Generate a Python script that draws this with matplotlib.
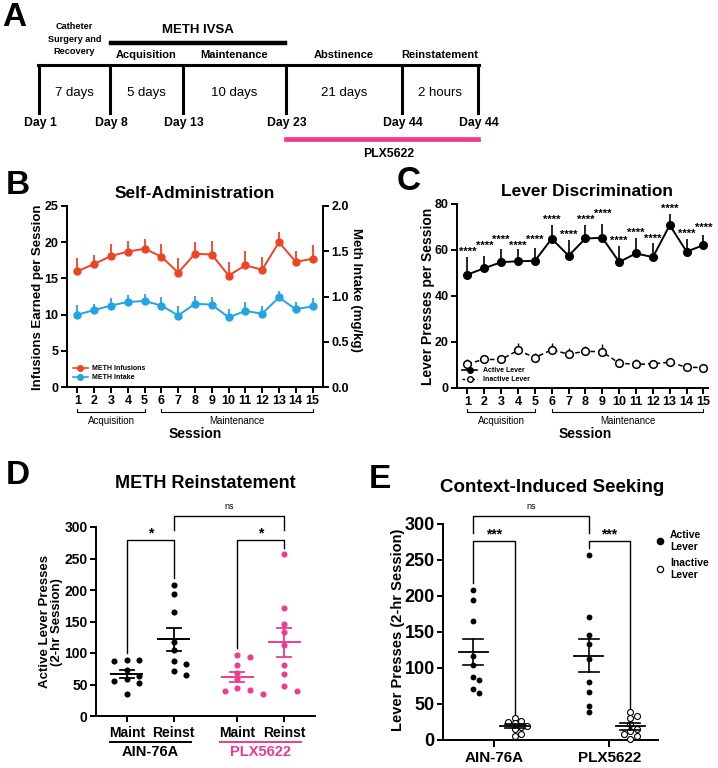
import numpy as np
import matplotlib
matplotlib.use('Agg')
import matplotlib.pyplot as plt
import matplotlib.transforms as mtransforms
from matplotlib import font_manager
from matplotlib.lines import Line2D

W, H = 718, 768

# ---------------- data ----------------
# Panel A: timeline
day_labels = ['Day 1', 'Day 8', 'Day 13', 'Day 23', 'Day 44', 'Day 44']
period_lengths = ['7 days', '5 days', '10 days', '21 days', '2 hours']
phase_labels = ['Catheter\nSurgery and\nRecovery', 'Acquisition', 'Maintenance',
                'Abstinence', 'Reinstatement']

# Panel B: self-administration
sessions = list(range(1, 16))
infusions_mean = [16.0, 17.0, 18.1, 18.7, 19.1, 18.0, 15.8, 18.4, 18.3, 15.4,
                  16.8, 16.2, 20.0, 17.3, 17.7]
infusions_sem = [1.8, 1.3, 1.65, 1.45, 1.4, 1.75, 2.0, 1.6, 1.8, 1.8,
                 1.95, 1.7, 1.45, 1.55, 1.9]
intake_mean = [0.80, 0.85, 0.90, 0.94, 0.95, 0.90, 0.79, 0.92, 0.91, 0.77,
               0.84, 0.81, 0.99, 0.86, 0.89]
intake_sem = [0.11, 0.07, 0.085, 0.075, 0.075, 0.09, 0.10, 0.085, 0.09, 0.09,
              0.10, 0.085, 0.075, 0.08, 0.095]

# Panel C: lever discrimination
active_mean = [49.3, 52.1, 54.7, 55.1, 55.3, 64.9, 57.5, 65.0, 65.3, 54.8,
               58.5, 56.9, 70.8, 59.3, 62.1]
active_sem = [7.6, 5.2, 5.7, 5.3, 5.4, 5.9, 6.9, 5.7, 6.0, 6.9,
              6.7, 6.1, 4.8, 5.4, 4.5]
inactive_mean = [10.6, 12.4, 12.4, 16.4, 13.2, 16.6, 14.7, 16.0, 15.7, 10.8,
                 10.3, 10.5, 11.2, 9.0, 8.9]
inactive_sem = [1.8, 2.1, 1.9, 3.2, 2.1, 3.0, 2.8, 2.2, 3.4, 2.4,
                2.2, 1.6, 1.2, 1.3, 1.1]
session_sig = ['****'] * 15

# Panel D: METH reinstatement (active lever presses)
ain_maint = [89, 89, 88, 73, 64, 59, 55, 53, 35]
ain_reinst = [208, 194, 165, 117, 104, 88, 83, 71, 65]
plx_maint = [97, 93, 81, 69, 58, 45, 41, 40, 35]
plx_reinst = [257, 171, 146, 133, 113, 81, 67, 47, 39]
d_tick_labels = ['Maint', 'Reinst', 'Maint', 'Reinst']
groups = ['AIN-76A', 'PLX5622']

# Panel E: context-induced seeking
ain_active = [208, 194, 165, 117, 104, 88, 83, 71, 65]
ain_inactive = [31, 27, 25, 23, 20, 18, 15, 9, 5]
plx_active = [257, 171, 146, 133, 113, 81, 67, 47, 39]
plx_inactive = [39, 33, 31, 22, 15, 12, 9, 6, 2]

# ---------------- style ----------------
def has_font(name):
    try:
        font_manager.findfont(font_manager.FontProperties(family=name),
                              fallback_to_default=False)
        return True
    except Exception:
        return False

MAIN = 'Liberation Sans' if has_font('Liberation Sans') else 'DejaVu Sans'
plt.rcParams['font.family'] = [MAIN, 'DejaVu Sans']
plt.rcParams['font.weight'] = 'bold'
plt.rcParams['axes.linewidth'] = 1.4
plt.rcParams['xtick.major.width'] = 1.4
plt.rcParams['ytick.major.width'] = 1.4

RED = '#EE4423'
BLUE = '#22A3E6'
PINK = '#EE3A8F'

fig = plt.figure(figsize=(W / 100, H / 100), dpi=100)


def rect(l, t, r, b):
    return [l / W, 1 - b / H, (r - l) / W, (b - t) / H]


def ftext(x, y, s, **kw):
    kw.setdefault('ha', 'center')
    kw.setdefault('va', 'center')
    return fig.text(x / W, 1 - y / H, s, **kw)


def style_axes(ax, labelsize=9):
    ax.spines['top'].set_visible(False)
    ax.spines['right'].set_visible(False)
    ax.tick_params(direction='out', length=4, labelsize=labelsize, pad=2)


def swarm_offsets(values, ppu_x, ppu_y, step_px, min_px):
    vals = np.asarray(values, dtype=float)
    order = np.argsort(-vals, kind='stable')
    placed = []
    offs = np.zeros(len(vals))
    cands = [0.0]
    for m in range(1, 8):
        cands += [m * step_px, -m * step_px]
    for i in order:
        y = vals[i] * ppu_y
        chosen = cands[-1]
        for c in cands:
            if all((c - px) ** 2 + (y - py) ** 2 >= min_px ** 2 for px, py in placed):
                chosen = c
                break
        placed.append((chosen, y))
        offs[i] = chosen / ppu_x
    return offs


def mean_sem(v):
    v = np.asarray(v, dtype=float)
    return v.mean(), v.std(ddof=1) / np.sqrt(len(v))

# ---------------- Panel A ----------------
axa = fig.add_axes([0, 1 - 165 / H, 1, 165 / H])
axa.set_xlim(0, W)
axa.set_ylim(165, 0)
axa.axis('off')
timeline_px = [39, 110, 183, 286, 402, 478]
tl_y = 65
axa.plot([timeline_px[0] - 1, timeline_px[-1] + 1], [tl_y, tl_y], color='k', lw=2.2)
for x, lab in zip(timeline_px, day_labels):
    axa.plot([x, x], [tl_y, 113], color='k', lw=2.2)
    axa.text(x + 1, 123, lab, ha='center', va='center', fontsize=8.8,
             fontweight='bold')
for i, (a, b) in enumerate(zip(timeline_px[:-1], timeline_px[1:])):
    xc = (a + b) / 2
    axa.text(xc, 93, period_lengths[i], ha='center', va='center', fontsize=9.5,
             fontweight='normal')
    if i == 0:
        axa.text(xc, 39, phase_labels[i], ha='center', va='center', fontsize=6.6,
                 fontweight='bold', linespacing=1.45)
    else:
        axa.text(xc, 55, phase_labels[i], ha='center', va='center', fontsize=8,
                 fontweight='bold')
axa.plot([timeline_px[1] + 1, timeline_px[3] - 1], [43, 43], color='k', lw=3.2)
axa.text((timeline_px[1] + timeline_px[3]) / 2, 30, 'METH IVSA', ha='center',
         va='center', fontsize=9.5, fontweight='bold')
axa.plot([timeline_px[3], timeline_px[5]], [139, 139], color=PINK, lw=3.4)
axa.text(389, 154, 'PLX5622', ha='center', va='center', fontsize=8.8,
         fontweight='bold')
ftext(14, 18, 'A', fontsize=24, fontweight='bold')

# ---------------- Panel B ----------------
axb = fig.add_axes(rect(67, 206, 323, 387))
style_axes(axb)
zeros = np.zeros(len(sessions))
axb.errorbar(sessions, infusions_mean, yerr=[zeros, infusions_sem], color=RED,
             marker='o', ms=5, lw=1.4, elinewidth=1.3, capsize=0, zorder=3)
axb.set_xlim(0.375, 15.625)
axb.set_ylim(0, 25)
axb.set_yticks([0, 5, 10, 15, 20, 25])
axb.set_xticks(sessions)
ftext(38, 297, 'Infusions Earned per Session', fontsize=9.5, fontweight='bold',
      rotation=90)
axb2 = axb.twinx()
axb2.spines['top'].set_visible(False)
axb2.spines['left'].set_visible(False)
axb2.spines['bottom'].set_visible(False)
axb2.tick_params(direction='out', length=4, labelsize=9, pad=2)
axb2.errorbar(sessions, intake_mean, yerr=[zeros, intake_sem], color=BLUE,
              marker='o', ms=5, lw=1.4, elinewidth=1.3, capsize=0, zorder=3)
axb2.set_ylim(0, 2.0)
axb2.set_yticks([0, 0.5, 1.0, 1.5, 2.0])
axb2.set_yticklabels(['0.0', '0.5', '1.0', '1.5', '2.0'])
ftext(356, 290, 'Meth Intake (mg/kg)', fontsize=9.5, fontweight='bold', rotation=270)
hb = [Line2D([], [], color=RED, marker='o', ms=4, lw=1.2),
      Line2D([], [], color=BLUE, marker='o', ms=4, lw=1.2)]
axb.legend(hb, ['METH Infusions', 'METH Intake'], loc='lower left',
           bbox_to_anchor=(0.0, 0.0), frameon=False, prop={'size': 5, 'weight': 'bold'},
           handlelength=2.2, handletextpad=0.6, labelspacing=0.3, borderaxespad=0.4)
ftext(195, 193, 'Self-Administration', fontsize=12.5, fontweight='bold')
ftext(18, 185, 'B', fontsize=24, fontweight='bold')


def session_brackets(ax, text_x):
    tr = mtransforms.blended_transform_factory(ax.transData, fig.transFigure)
    for a, b, lab in [(1, 5, 'Acquisition'), (6, 15, 'Maintenance')]:
        ax.plot([a, a, b, b], [1 - 409 / H, 1 - 412 / H, 1 - 412 / H, 1 - 409 / H],
                color='k', lw=0.8, transform=tr, clip_on=False)
        ax.text((a + b) / 2, 1 - 421.5 / H, lab, transform=tr, ha='center', va='center',
                fontsize=7, fontweight='normal')
    ftext(text_x, 434, 'Session', fontsize=10, fontweight='bold')


session_brackets(axb, 195)

# ---------------- Panel C ----------------
axc = fig.add_axes(rect(457, 204, 708, 388))
style_axes(axc)
axc.errorbar(sessions, active_mean, yerr=[zeros, active_sem], color='k',
             marker='o', ms=5.5, lw=1.4, elinewidth=1.2, capsize=0, zorder=3)
axc.errorbar(sessions, inactive_mean, yerr=[zeros, inactive_sem], color='k',
             marker='o', ms=5.5, mfc='white', mec='k', mew=1.1, lw=1.1,
             ls=(0, (3, 2)), elinewidth=1.0, capsize=0, zorder=3)
# significance labels, staggered vertically where neighbours would collide
prev_y = None
sep = 2.6
for s, m, e, lab in zip(sessions, active_mean, active_sem, session_sig):
    top = m + e
    y = top + 2.4
    if prev_y is not None and abs(y - prev_y) < sep:
        if y < prev_y and prev_y - sep >= top + 1.2:
            y = prev_y - sep
        else:
            y = prev_y + sep
    axc.text(s, y, lab, ha='center', va='center', fontsize=8, fontweight='bold')
    prev_y = y
axc.set_xlim(0.38, 15.27)
axc.set_ylim(0, 80)
axc.set_yticks([0, 20, 40, 60, 80])
axc.set_xticks(sessions)
ftext(428, 296, 'Lever Presses per Session', fontsize=10, fontweight='bold',
      rotation=90)
hc = [Line2D([], [], color='k', marker='o', ms=4, lw=1.2),
      Line2D([], [], color='k', marker='o', ms=4, mfc='white', lw=1.0, ls=(0, (2, 1.5)))]
axc.legend(hc, ['Active Lever', 'Inactive Lever'], loc='lower left',
           bbox_to_anchor=(0.0, 0.0), frameon=False, prop={'size': 5, 'weight': 'bold'},
           handlelength=2.2, handletextpad=0.8, labelspacing=0.3, borderaxespad=0.3)
ftext(587, 192, 'Lever Discrimination', fontsize=12.5, fontweight='bold')
ftext(409, 181, 'C', fontsize=24, fontweight='bold')
session_brackets(axc, 585)

# ---------------- Panel D ----------------
d_left, d_top, d_right, d_bot = 96, 527, 315, 716
axd = fig.add_axes(rect(d_left, d_top, d_right, d_bot))
style_axes(axd, labelsize=10)
d_pos = [0, 1, 2.36, 3.36]
d_xlim = (-0.66, 4.02)
axd.set_xlim(*d_xlim)
axd.set_ylim(0, 300)
ppu_x_d = (d_right - d_left) / (d_xlim[1] - d_xlim[0])
ppu_y_d = (d_bot - d_top) / 300
d_sets = [ain_maint, ain_reinst, plx_maint, plx_reinst]
d_cols = ['k', 'k', PINK, PINK]
for pos, vals, col in zip(d_pos, d_sets, d_cols):
    offs = swarm_offsets(vals, ppu_x_d, ppu_y_d, 12.6, 6.5)
    axd.plot(pos + offs, vals, 'o', color=col, ms=4.4, mew=0, zorder=3, clip_on=False)
    m, se = mean_sem(vals)
    axd.plot([pos - 0.33, pos + 0.33], [m, m], color=col, lw=1.4, zorder=4)
    axd.plot([pos, pos], [m - se, m + se], color=col, lw=1.3, zorder=4)
    for yy in (m - se, m + se):
        axd.plot([pos - 0.15, pos + 0.15], [yy, yy], color=col, lw=1.3, zorder=4)
axd.set_xticks(d_pos)
axd.set_xticklabels(d_tick_labels, fontsize=10, fontweight='bold')
axd.tick_params(axis='x', pad=3)
axd.set_yticks([0, 50, 100, 150, 200, 250, 300])
ftext(51, 622, 'Active Lever Presses\n(2-hr Session)', fontsize=9.5,
      fontweight='bold', linespacing=1.1, rotation=90)
trd = mtransforms.blended_transform_factory(axd.transData, fig.transFigure)
for (a, b), g, col in zip([(d_pos[0], d_pos[1]), (d_pos[2], d_pos[3])], groups, ['k', PINK]):
    c = (a + b) / 2
    axd.plot([c - 0.86, c + 0.86], [1 - 741.7 / H] * 2, color=col, lw=1.4,
             transform=trd, clip_on=False)
    axd.text(c, 1 - 752 / H, g, transform=trd, ha='center', va='center',
             fontsize=10.5, fontweight='bold', color=col)


def bracket(ax, x1, x2, y, yb1, yb2, label, dy, fs, weight='bold'):
    ax.plot([x1, x1, x2, x2], [yb1, y, y, yb2], color='k', lw=1.0, clip_on=False,
            zorder=2)
    ax.text((x1 + x2) / 2, y + dy, label, ha='center', va='center', fontsize=fs,
            fontweight=weight, clip_on=False)


bracket(axd, d_pos[0], d_pos[1], 279, 100, 219, '*', 11, 10)
bracket(axd, d_pos[2], d_pos[3], 279, 108, 266, '*', 11, 10)
bracket(axd, d_pos[1], d_pos[3], 317, 296, 296, 'ns', 15, 6.5, weight='normal')
ftext(205, 483, 'METH Reinstatement', fontsize=13, fontweight='bold')
ftext(18, 476, 'D', fontsize=24, fontweight='bold')

# ---------------- Panel E ----------------
e_left, e_top, e_right, e_bot = 443, 524, 658, 740
axe = fig.add_axes(rect(e_left, e_top, e_right, e_bot))
style_axes(axe, labelsize=13)
e_xlim = (-0.44, 1.42)
axe.set_xlim(*e_xlim)
axe.set_ylim(0, 300)
ppu_x_e = (e_right - e_left) / (e_xlim[1] - e_xlim[0])
ppu_y_e = (e_bot - e_top) / 300
e_off = 0.18
for gi, (act, ina) in enumerate([(ain_active, ain_inactive), (plx_active, plx_inactive)]):
    for pos, vals, filled in [(gi - e_off, act, True), (gi + e_off, ina, False)]:
        offs = swarm_offsets(vals, ppu_x_e, ppu_y_e, 6.4, 5.6)
        if filled:
            axe.plot(pos + offs, vals, 'o', color='k', ms=4.2, mew=0, zorder=3,
                     clip_on=False)
        else:
            axe.plot(pos + offs, vals, 'o', mfc='white', mec='k', ms=4.3, mew=0.8,
                     zorder=3, clip_on=False)
        m, se = mean_sem(vals)
        axe.plot([pos - 0.125, pos + 0.125], [m, m], color='k', lw=1.3, zorder=4)
        axe.plot([pos, pos], [m - se, m + se], color='k', lw=1.2, zorder=4)
        for yy in (m - se, m + se):
            axe.plot([pos - 0.086, pos + 0.086], [yy, yy], color='k', lw=1.2, zorder=4)
axe.set_xticks([0, 1])
axe.set_xticklabels(groups, fontsize=11, fontweight='bold')
axe.tick_params(axis='x', length=5, pad=3)
axe.set_yticks([0, 50, 100, 150, 200, 250, 300])
ftext(398, 630, 'Lever Presses (2-hr Session)', fontsize=10.5, fontweight='bold',
      rotation=90)
bracket(axe, -e_off, e_off, 277, 218, 36, '***', 9, 10)
bracket(axe, 1 - e_off, 1 + e_off, 277, 266, 44, '***', 9, 10)
bracket(axe, -e_off, 1 - e_off, 310.6, 287, 287, 'ns', 14, 6.5, weight='normal')
he = [Line2D([], [], color='k', marker='o', ms=4.5, lw=0),
      Line2D([], [], color='k', marker='o', ms=4.5, mfc='white', mew=0.9, lw=0)]
axe.legend(he, ['Active\nLever', 'Inactive\nLever'], loc='upper left',
           bbox_to_anchor=(0.955, 1.0), frameon=False, prop={'size': 7.5, 'weight': 'bold'},
           handlelength=1.0, handletextpad=0.5, labelspacing=0.6, borderaxespad=0.2)
ftext(552, 487, 'Context-Induced Seeking', fontsize=13.5, fontweight='bold')
ftext(380, 480, 'E', fontsize=24, fontweight='bold')

fig.savefig('out.png', dpi=100)
